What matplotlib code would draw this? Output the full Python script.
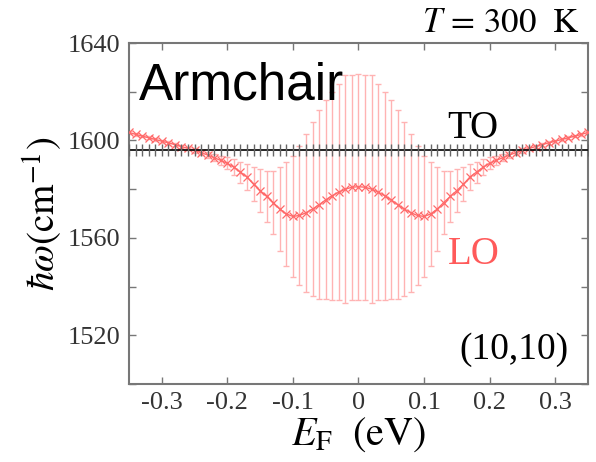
import numpy as np
import matplotlib
matplotlib.use("Agg")
import matplotlib.pyplot as plt
from matplotlib.ticker import MultipleLocator

plt.rcParams['mathtext.fontset'] = 'stix'
plt.rcParams['axes.unicode_minus'] = False

# Fermi energy grid (eV)
ef = [round(-0.35 + 0.01 * i, 2) for i in range(71)]

# LO phonon frequency (cm^-1), x = -0.35 ... 0.35
lo_freq = [1603.3, 1602.5, 1601.8, 1601.1, 1600.4, 1599.7, 1599.0, 1598.3, 1597.5, 1596.7,
           1595.9, 1595.0, 1594.0, 1592.9, 1591.8, 1590.6, 1589.0, 1587.0, 1585.0, 1582.0,
           1579.4, 1577.0, 1574.5, 1571.8, 1569.8, 1568.8, 1569.2, 1570.3, 1571.8, 1573.6,
           1575.6, 1577.3, 1578.8, 1580.0, 1580.8, 1581.0, 1580.8, 1580.0, 1578.8, 1577.3,
           1575.6, 1573.6, 1571.8, 1570.3, 1569.2, 1568.8, 1569.8, 1571.8, 1574.5, 1577.0,
           1579.4, 1582.0, 1585.0, 1587.0, 1589.0, 1590.6, 1591.8, 1592.9, 1594.0, 1595.0,
           1595.9, 1596.7, 1597.5, 1598.3, 1599.0, 1599.7, 1600.4, 1601.1, 1601.8, 1602.5,
           1603.3]

# LO linewidth (error bar half-length, cm^-1)
lo_err = [0.5, 0.5, 0.5, 0.6, 0.6, 0.6, 0.7, 0.7, 0.8, 0.8,
          0.9, 1.0, 1.2, 1.5, 2.0, 2.5, 3.3, 4.3, 5.5, 7.0,
          8.8, 10.5, 13.0, 17.2, 21.2, 24.9, 28.5, 32.4, 35.8, 38.7,
          40.8, 42.7, 44.5, 46.7, 46.2, 46.4, 46.2, 46.7, 44.5, 42.7,
          40.8, 38.7, 35.8, 32.4, 28.5, 24.9, 21.2, 17.2, 13.0, 10.5,
          8.8, 7.0, 5.5, 4.3, 3.3, 2.5, 2.0, 1.5, 1.2, 1.0,
          0.9, 0.8, 0.8, 0.7, 0.7, 0.6, 0.6, 0.6, 0.5, 0.5,
          0.5]

# TO phonon frequency (cm^-1)
to_freq = [1596.0] * 71

xticks = [-0.3, -0.2, -0.1, 0, 0.1, 0.2, 0.3]
xticklabels = ['-0.3', '-0.2', '-0.1', '0', '0.1', '0.2', '0.3']
yticks = [1520, 1560, 1600, 1640]

fig = plt.figure(figsize=(5.96, 4.62), dpi=100)
ax = fig.add_axes([0.2164, 0.1688, 0.7702, 0.7381])

ax.errorbar(ef, lo_freq, yerr=lo_err, fmt='none', ecolor='#ffb3b3',
            elinewidth=1.0, capsize=2.5, capthick=1.0, zorder=2)
ax.plot(ef, lo_freq, color='#ff6a6a', lw=1.0, marker='x', ms=5.5, mew=0.9, zorder=3)
ax.plot(ef, to_freq, color='black', lw=1.2, zorder=4)
ax.plot(ef, to_freq, ls='none', marker='|', ms=8, mew=1.0, color='#666666', zorder=5)

ax.set_xlim(-0.35, 0.35)
ax.set_ylim(1500, 1640)
ax.set_xticks(xticks)
ax.set_xticklabels(xticklabels)
ax.set_yticks(yticks)
ax.yaxis.set_minor_locator(MultipleLocator(20))

serif = 'Liberation Serif'
for lab in ax.get_xticklabels() + ax.get_yticklabels():
    lab.set_fontfamily(serif)
    lab.set_fontsize(19)
    lab.set_color('#333333')

ax.tick_params(which='both', direction='in', top=True, right=True, color='#777777')
ax.tick_params(which='major', length=5, width=1.0, pad=6)
ax.tick_params(which='minor', length=5, width=1.0)
for s in ax.spines.values():
    s.set_color('#777777')
    s.set_linewidth(1.5)

ax.set_xlabel(r'$E_{\mathrm{F}}\ \ (\mathrm{eV})$', fontsize=29, labelpad=0)
ax.set_ylabel(r'$\hbar\omega(\mathrm{cm}^{-1})$', fontsize=28, labelpad=2)

ax.text(0.022, 0.945, 'Armchair', transform=ax.transAxes, fontsize=37,
        family='Liberation Sans', va='top', ha='left', color='black')
fig.text(0.972, 0.99, r'$T\,=\,300\ \ \mathrm{K}$', fontsize=25, ha='right', va='top')
ax.text(0.136, 1597.3, 'TO', fontsize=28, family=serif, ha='left', va='bottom')
ax.text(0.137, 1553, 'LO', fontsize=28, family=serif, ha='left', va='center', color='#ff5a5a')
ax.text(0.320, 1514, '(10,10)', fontsize=27, family=serif, ha='right', va='center')

fig.savefig('out.png', dpi=100)
